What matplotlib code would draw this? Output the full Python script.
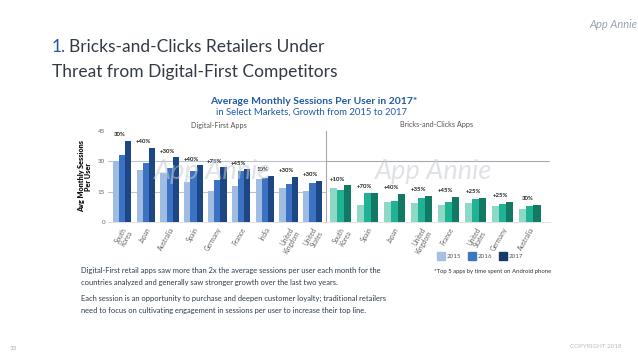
import matplotlib
matplotlib.use("Agg")
import matplotlib.pyplot as plt
import numpy as np

# ---------------- data ----------------
years = ["2015", "2016", "2017"]
df_countries = ["South\nKorea", "Japan", "Australia", "Spain", "Germany",
                "France", "India", "United\nKingdom", "United\nStates"]
df_2015 = [30.3, 25.9, 24.3, 19.9, 15.1, 17.8, 21.1, 16.7, 15.4]
df_2016 = [32.9, 29.3, 26.6, 25.1, 20.7, 25.1, 21.9, 18.8, 19.3]
df_2017 = [40.2, 36.8, 31.9, 28.0, 27.1, 26.1, 22.7, 22.2, 20.3]
df_growth = ["30%", "+40%", "+30%", "+40%", "+75%", "+45%", "10%", "+30%", "+30%"]

bc_countries = ["South\nKorea", "Spain", "Japan", "United\nKingdom", "France",
                "United\nStates", "Germany", "Australia"]
bc_2015 = [16.7, 8.4, 9.9, 9.4, 8.4, 9.4, 7.9, 6.5]
bc_2016 = [15.7, 14.3, 10.5, 11.8, 9.9, 11.3, 8.9, 7.9]
bc_2017 = [18.2, 14.3, 13.8, 12.8, 12.3, 11.8, 9.9, 8.4]
bc_growth = ["+10%", "+70%", "+40%", "+35%", "+45%", "+25%", "+25%", "30%"]

y_ticks = [0, 15, 30, 45]

df_colors = ["#9fbce3", "#3c72c4", "#1d4685"]
bc_colors = ["#8ed9c6", "#1fb294", "#127a63"]
legend_colors = ["#a6c0e2", "#3b78c2", "#173a66"]

W, H = 638, 359
fig = plt.figure(figsize=(W / 100, H / 100), dpi=100)
fig.patch.set_facecolor("white")

def fx(px):
    return px / W

def fy(py):
    return 1 - py / H

FONT = "Lato"

# ---- header texts ----
fig.text(fx(52), fy(47), "1.", fontsize=12.5, color="#1f5aa6", family=FONT,
         va="center", ha="left")
fig.text(fx(69), fy(47), "Bricks-and-Clicks Retailers Under", fontsize=12.5,
         color="#333a44", family=FONT, va="center", ha="left")
fig.text(fx(52), fy(72), "Threat from Digital-First Competitors", fontsize=12.5,
         color="#333a44", family=FONT, va="center", ha="left")
fig.text(fx(613), fy(24), "App Annie", fontsize=8, color="#9aa3ad",
         family=FONT, style="italic", va="center", ha="center")

fig.text(fx(314), fy(101), "Average Monthly Sessions Per User in 2017*",
         fontsize=7.5, fontweight="bold", color="#1f5aa6", family=FONT,
         ha="center", va="center")
fig.text(fx(311), fy(112), "in Select Markets, Growth from 2015 to 2017",
         fontsize=6.8, color="#1f5aa6", family=FONT, ha="center", va="center")
fig.text(fx(219), fy(125), "Digital-First Apps", fontsize=5.2, color="#555555",
         family=FONT, ha="center", va="center")
fig.text(fx(437), fy(124), "Bricks-and-Clicks Apps", fontsize=5.2, color="#555555",
         family=FONT, ha="center", va="center")

# watermarks
for cx in (213, 434):
    fig.text(fx(cx), fy(172), "App Annie", fontsize=19.5, color="#c5cbd3",
             alpha=0.55, family=FONT, style="italic", ha="center", va="center",
             zorder=0)

# ---- axes ----
y0, y45 = 222, 131
ax_h = (y0 - y45) / H
ax1 = fig.add_axes([fx(108), fy(y0), fx(326) - fx(108), ax_h])
ax2 = fig.add_axes([fx(326), fy(y0), fx(550) - fx(326), ax_h])

bw = 0.26

def draw(ax, cats, s15, s16, s17, growth, colors, xlim):
    x = np.arange(len(cats))
    for i, (vals, c) in enumerate(zip([s15, s16, s17], colors)):
        ax.bar(x + (i - 1) * bw, vals, bw, color=c, zorder=3, linewidth=0)
    for xi, top, g in zip(x, s17, growth):
        ax.text(xi - 0.1, top + 1.8, g, fontsize=4.3, color="#222222",
                ha="center", va="bottom", family=FONT, fontweight="bold")
    ax.set_xlim(*xlim)
    ax.set_ylim(0, 45)
    ax.set_xticks(x)
    ax.set_xticklabels(cats, rotation=60, ha="right", rotation_mode="anchor",
                       fontsize=4.7, color="#666666", family=FONT,
                       linespacing=1.0)
    ax.tick_params(axis="x", length=0, pad=3)
    for s in ["top", "right", "left"]:
        ax.spines[s].set_visible(False)
    ax.spines["bottom"].set_color("#dddddd")
    ax.spines["bottom"].set_linewidth(0.6)
    ax.set_facecolor("none")

draw(ax1, df_countries, df_2015, df_2016, df_2017, df_growth, df_colors, (-0.59, 8.57))
draw(ax2, bc_countries, bc_2015, bc_2016, bc_2017, bc_growth, bc_colors, (-0.52, 7.74))

ax1.set_yticks(y_ticks)
ax1.set_yticklabels([str(v) for v in y_ticks], fontsize=4.5, color="#666666",
                    family=FONT)
ax1.tick_params(axis="y", length=0, pad=2)
for v in [15, 30]:
    ax1.axhline(v, color="#b9c4d0", lw=0.8, zorder=1)
ax2.set_yticks([])
ax2.axhline(30, color="#a9a9a9", lw=0.8, zorder=1)
ax2.spines["left"].set_visible(True)
ax2.spines["left"].set_color("#a9a9a9")
ax2.spines["left"].set_linewidth(0.8)

ax1.set_ylabel("Avg Monthly Sessions\nPer User", fontsize=5.2, fontweight="heavy",
               color="#111111", family=FONT, linespacing=1.0, labelpad=4)

# ---- legend ----
for i, (lab, c) in enumerate(zip(years, legend_colors)):
    xs = 437 + i * 31
    fig.patches.append(plt.Rectangle((fx(xs), fy(260)), fx(8), 8 / H,
                                     transform=fig.transFigure, color=c))
    fig.text(fx(xs + 10), fy(256), lab, fontsize=4.5, color="#555555",
             family=FONT, va="center", ha="left")

fig.text(fx(434), fy(271), "*Top 5 apps by time spent on Android phone",
         fontsize=4.3, color="#333333", family=FONT, va="center", ha="left")

# ---- body ----
body_color = "#2d3b4e"
body = [
    (270, "Digital-First retail apps saw more than 2x the average sessions per user each month for the"),
    (282, "countries analyzed and generally saw stronger growth over the last two years."),
    (298, "Each session is an opportunity to purchase and deepen customer loyalty; traditional retailers"),
    (310, "need to focus on cultivating engagement in sessions per user to increase their top line."),
]
for yy, t in body:
    fig.text(fx(81), fy(yy), t, fontsize=5.45, color=body_color, family=FONT,
             va="center", ha="left")

fig.text(fx(10), fy(348), "33", fontsize=4.5, color="#aaaaaa", family=FONT,
         va="center", ha="left")
fig.text(fx(622), fy(346), "COPYRIGHT 2018", fontsize=4.5, color="#bbbbbb",
         family=FONT, va="center", ha="right")

fig.savefig("out.png", dpi=100, facecolor="white")
